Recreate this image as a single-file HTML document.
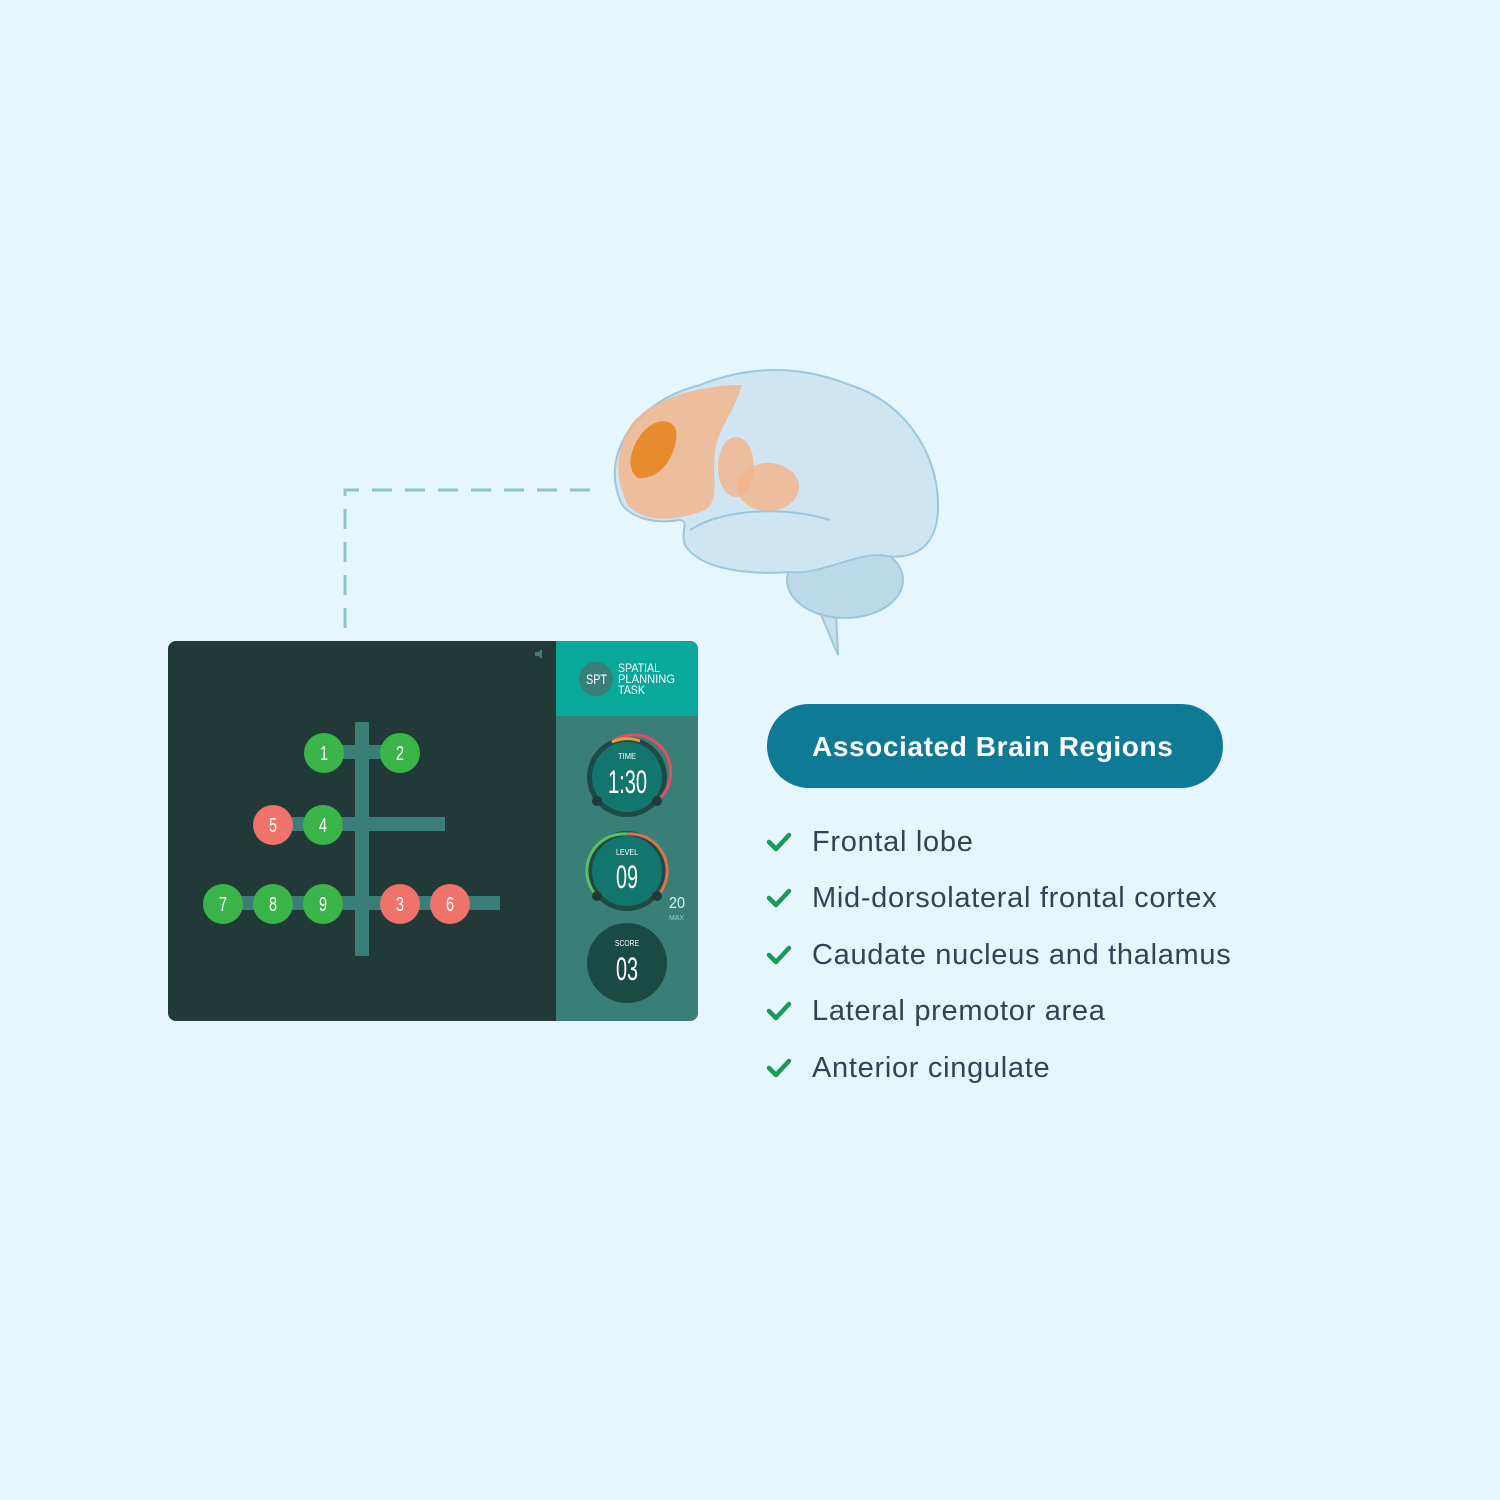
<!DOCTYPE html>
<html><head><style>
body{margin:0;width:1500px;height:1500px;background:#e6f6fd;position:relative;overflow:hidden;font-family:"Liberation Sans",sans-serif}
.pill{position:absolute;left:767px;top:704px;width:456px;height:84px;border-radius:42px;background:#0e7a96;color:#fff;font-weight:bold;font-size:28px;letter-spacing:0.6px;line-height:86px;box-sizing:border-box;padding-left:45px}
.li{position:absolute;left:812px;font-size:29px;letter-spacing:0.7px;color:#2e4457}
</style></head><body>
<svg width="1500" height="1500" style="position:absolute;left:0;top:0">
<path d="M345 628 V490 H600" fill="none" stroke="#8fc3cc" stroke-width="3" stroke-dasharray="20 13"/>
<g>
<path d="M838 655 L820 612 L800 588 L835 590 Z" fill="#c6e0ee" stroke="#9cc6dc" stroke-width="2"/>
<ellipse cx="845" cy="580" rx="58" ry="38" fill="#bcd9e8" stroke="#9cc6dc" stroke-width="2"/>
<path d="M620 500 C600 450 640 400 700 385 C750 365 800 365 850 385 C900 400 940 450 938 510 C936 555 905 560 880 555 C850 555 820 575 790 572 C750 575 700 570 685 545 C680 530 690 522 680 520 C650 525 625 515 620 500 Z" fill="#cfe5f1" stroke="#9cc6dc" stroke-width="2"/>
<path d="M690 530 C720 510 780 505 830 520" fill="none" stroke="#9cc6dc" stroke-width="2"/>
<path d="M628 430 C640 405 690 385 742 385 C735 410 720 425 715 450 C712 480 720 500 705 510 C680 520 645 525 628 505 C615 480 615 455 628 430 Z" fill="#f2b48a" opacity="0.8"/>
<path d="M645 430 C660 415 680 420 676 440 C672 465 655 480 638 478 C625 470 630 445 645 430 Z" fill="#e88a2e"/>
<ellipse cx="736" cy="467" rx="18" ry="30" fill="#f2b48a" opacity="0.8"/>
<ellipse cx="768" cy="487" rx="31" ry="24" fill="#f2b48a" opacity="0.8"/>
</g>
<rect x="168" y="641" width="530" height="380" rx="8" fill="#213a38"/>
<path d="M556 641 H690 a8 8 0 0 1 8 8 V1013 a8 8 0 0 1 -8 8 H556 Z" fill="#3a7f77"/>
<path d="M556 641 H690 a8 8 0 0 1 8 8 V716 H556 Z" fill="#08a89b"/>
<circle cx="596" cy="679" r="17" fill="#3a7f77"/>
<text x="586" y="684" fill="#fff" font-size="14" textLength="21" lengthAdjust="spacingAndGlyphs">SPT</text>
<g font-size="12" fill="#fff"><text x="618" y="672" textLength="42" lengthAdjust="spacingAndGlyphs">SPATIAL</text><text x="618" y="683" textLength="57" lengthAdjust="spacingAndGlyphs">PLANNING</text><text x="618" y="694" textLength="27" lengthAdjust="spacingAndGlyphs">TASK</text></g>
<path d="M535 652 h3 l4 -3 v10 l-4 -3 h-3 z" fill="#3a7f77"/>
<g fill="#3a7f77">
<rect x="355" y="722" width="14" height="234"/>
<rect x="325" y="745" width="75" height="14"/>
<rect x="273" y="817" width="172" height="14"/>
<rect x="223" y="896" width="277" height="14"/>
</g>
<g font-size="20" fill="#fff">
<circle cx="324" cy="753" r="20" fill="#3bb54a"/><text x="320" y="760" textLength="8" lengthAdjust="spacingAndGlyphs">1</text>
<circle cx="400" cy="753" r="20" fill="#3bb54a"/><text x="396" y="760" textLength="8" lengthAdjust="spacingAndGlyphs">2</text>
<circle cx="273" cy="825" r="20" fill="#f0736b"/><text x="269" y="832" textLength="8" lengthAdjust="spacingAndGlyphs">5</text>
<circle cx="323" cy="825" r="20" fill="#3bb54a"/><text x="319" y="832" textLength="8" lengthAdjust="spacingAndGlyphs">4</text>
<circle cx="223" cy="904" r="20" fill="#3bb54a"/><text x="219" y="911" textLength="8" lengthAdjust="spacingAndGlyphs">7</text>
<circle cx="273" cy="904" r="20" fill="#3bb54a"/><text x="269" y="911" textLength="8" lengthAdjust="spacingAndGlyphs">8</text>
<circle cx="323" cy="904" r="20" fill="#3bb54a"/><text x="319" y="911" textLength="8" lengthAdjust="spacingAndGlyphs">9</text>
<circle cx="400" cy="904" r="20" fill="#f0736b"/><text x="396" y="911" textLength="8" lengthAdjust="spacingAndGlyphs">3</text>
<circle cx="450" cy="904" r="20" fill="#f0736b"/><text x="446" y="911" textLength="8" lengthAdjust="spacingAndGlyphs">6</text>
</g>
<g fill="#fff">
<circle cx="627" cy="777" r="40" fill="#1e4a45"/><circle cx="627" cy="777" r="35" fill="#13766e"/>
<path d="M612 742 A37 37 0 0 1 660 798" fill="none" stroke="#e05060" stroke-width="3"/>
<path d="M612 742 A37 37 0 0 1 640 741" fill="none" stroke="#e0a040" stroke-width="3"/>
<circle cx="597" cy="801" r="5" fill="#1e3a36"/><circle cx="657" cy="801" r="5" fill="#1e3a36"/>
<text x="618" y="759" font-size="8" textLength="18" lengthAdjust="spacingAndGlyphs">TIME</text>
<text x="608" y="793" font-size="32" textLength="39" lengthAdjust="spacingAndGlyphs">1:30</text>
<circle cx="627" cy="871" r="40" fill="#1e4a45"/><circle cx="627" cy="871" r="35" fill="#13766e"/>
<path d="M595 894 A37 37 0 0 1 627 834" fill="none" stroke="#5cc060" stroke-width="3"/>
<path d="M627 834 A37 37 0 0 1 659 894" fill="none" stroke="#e07050" stroke-width="3"/>
<circle cx="597" cy="896" r="5" fill="#1e3a36"/><circle cx="657" cy="896" r="5" fill="#1e3a36"/>
<text x="616" y="855" font-size="8" textLength="22" lengthAdjust="spacingAndGlyphs">LEVEL</text>
<text x="616" y="888" font-size="32" textLength="22" lengthAdjust="spacingAndGlyphs">09</text>
<text x="669" y="908" font-size="16" fill="#cfe" textLength="16" lengthAdjust="spacingAndGlyphs">20</text>
<text x="669" y="920" font-size="7" fill="#9cc" textLength="15" lengthAdjust="spacingAndGlyphs">MAX</text>
<circle cx="627" cy="963" r="40" fill="#1a4a44"/>
<text x="615" y="946" font-size="8" textLength="24" lengthAdjust="spacingAndGlyphs">SCORE</text>
<text x="616" y="980" font-size="32" textLength="22" lengthAdjust="spacingAndGlyphs">03</text>
</g>
<g fill="none" stroke="#1a9a5a" stroke-width="4.5" stroke-linecap="round" stroke-linejoin="round">
<path d="M769 842 l7 7 l13 -14"/><path d="M769 898 l7 7 l13 -14"/><path d="M769 955 l7 7 l13 -14"/><path d="M769 1011 l7 7 l13 -14"/><path d="M769 1068 l7 7 l13 -14"/>
</g>
</svg>
<div class="pill">Associated Brain Regions</div>
<div class="li" style="top:826px">Frontal lobe</div>
<div class="li" style="top:882px">Mid-dorsolateral frontal cortex</div>
<div class="li" style="top:939px">Caudate nucleus and thalamus</div>
<div class="li" style="top:995px">Lateral premotor area</div>
<div class="li" style="top:1052px">Anterior cingulate</div>
</body></html>
